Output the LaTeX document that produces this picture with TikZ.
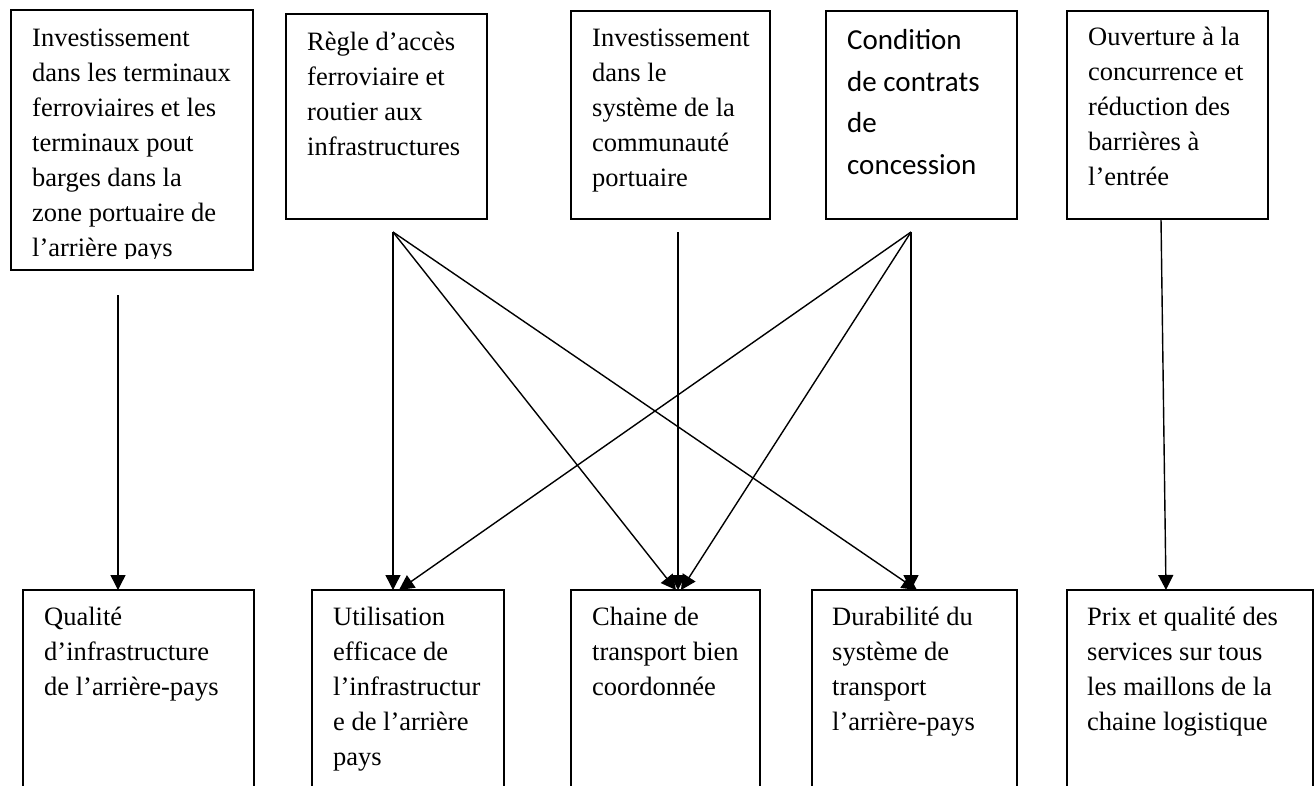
\documentclass[tikz,border=0pt]{standalone}
\usepackage{fontspec}
\setmainfont{Liberation Serif}
\newfontfamily\calibfont{Carlito}
\usetikzlibrary{arrows.meta}
\begin{document}
\begin{tikzpicture}[x=1pt,y=-1pt,
  box/.style={draw, line width=1.6pt, inner sep=0pt, outer sep=0pt},
  txt/.style={anchor=north west, align=left, inner sep=0pt, font=\fontsize{26.5}{35}\selectfont},
  ctxt/.style={anchor=north west, align=left, inner sep=0pt, font=\calibfont\fontsize{29}{41.7}\selectfont},
  arr/.style={line width=1.4pt, -{Triangle[length=15pt,width=15pt]}}]
\useasboundingbox (0,0) rectangle (1314,785);
\clip (0,0) rectangle (1314,785);
\fill[white] (0,0) rectangle (1314,785);
% top boxes
\node[box, minimum width=242pt, minimum height=260pt] (t1) at (132,140) {};
\node[box, minimum width=201pt, minimum height=205pt] (t2) at (386.5,116.5) {};
\node[box, minimum width=199pt, minimum height=208pt] (t3) at (670.5,115) {};
\node[box, minimum width=191pt, minimum height=208pt] (t4) at (921.5,115) {};
\node[box, minimum width=201pt, minimum height=208pt] (t5) at (1167.5,115) {};
% bottom boxes
\node[box, minimum width=231pt, minimum height=210pt] (b1) at (138.5,695) {};
\node[box, minimum width=192pt, minimum height=210pt] (b2) at (408,695) {};
\node[box, minimum width=189pt, minimum height=210pt] (b3) at (665.5,695) {};
\node[box, minimum width=205pt, minimum height=210pt] (b4) at (914.5,695) {};
\node[box, minimum width=246pt, minimum height=210pt] (b5) at (1190,695) {};
% texts
\begin{scope}
\clip (11,10) rectangle (253,258);
\node[txt] (t1t) at (32,29) {Investissement\\dans les terminaux\\ferroviaires et les\\terminaux pout\\barges dans la\\zone portuaire de\\l’arrière pays};
\end{scope}
\node[txt] (t2t) at (307,32) {Règle d’accès\\ferroviaire et\\routier aux\\infrastructures};
\node[txt] (t3t) at (592,29) {Investissement\\dans le\\système de la\\communauté\\portuaire};
\node[ctxt] (t4t) at (847,29) {Condition\\de contrats\\de\\concession};
\node[txt] (t5t) at (1088,27) {Ouverture à la\\concurrence et\\réduction des\\barrières à\\l’entrée};
\node[txt] (b1t) at (44,607) {Qualité\\d’infrastructure\\de l’arrière-pays};
\node[txt] (b2t) at (333,607) {Utilisation\\efficace de\\l’infrastructur\\e de l’arrière\\pays};
\node[txt] (b3t) at (592,607) {Chaine de\\transport bien\\coordonnée};
\node[txt] (b4t) at (832,607) {Durabilité du\\système de\\transport\\l’arrière-pays};
\node[txt] (b5t) at (1087,607) {Prix et qualité des\\services sur tous\\les maillons de la\\chaine logistique};
% connector end points
\coordinate (s1) at (118,295);
\coordinate (s2) at (393,232);
\coordinate (s3) at (678,232);
\coordinate (s4) at (911,232);
\coordinate (s5) at (1161,219);
\coordinate (e1) at (118,590);
\coordinate (e2a) at (393,590);
\coordinate (e2b) at (399,590);
\coordinate (e3a) at (676,590);
\coordinate (e3b) at (678,590);
\coordinate (e3c) at (681,590);
\coordinate (e4a) at (917,590);
\coordinate (e4b) at (911,590);
\coordinate (e5) at (1166,590);
% connectors
\draw[arr] (s1) -- (e1);
\draw[arr] (s2) -- (e2a);
\draw[arr] (s2) -- (e3a);
\draw[arr] (s2) -- (e4a);
\draw[arr] (s3) -- (e3b);
\draw[arr] (s4) -- (e2b);
\draw[arr] (s4) -- (e3c);
\draw[arr] (s4) -- (e4b);
\draw[arr] (s5) -- (e5);
\end{tikzpicture}
\end{document}
